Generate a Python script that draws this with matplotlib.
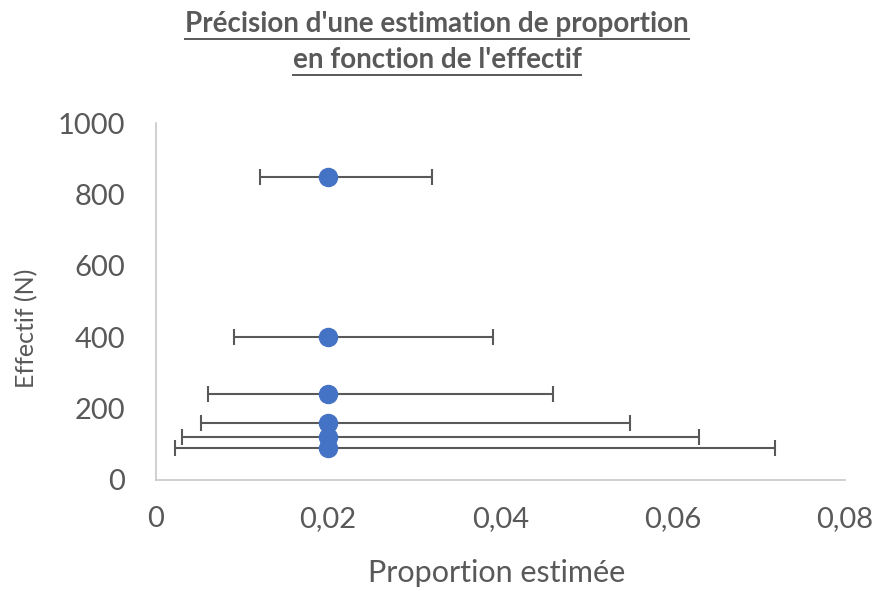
import matplotlib.pyplot as plt
from matplotlib.lines import Line2D
from matplotlib.ticker import FuncFormatter

plt.rcParams['font.family'] = ['Lato', 'DejaVu Sans']

# données
effectif = [850, 400, 240, 160, 120, 90]
proportion = [0.02, 0.02, 0.02, 0.02, 0.02, 0.02]
borne_inf = [0.0121, 0.0091, 0.0061, 0.0052, 0.0031, 0.0022]
borne_sup = [0.0321, 0.0391, 0.0461, 0.0550, 0.0631, 0.0719]

gris = '#595959'
bleu = '#4472C4'

err_g = [p - b for p, b in zip(proportion, borne_inf)]
err_d = [b - p for p, b in zip(proportion, borne_sup)]

W, H = 877, 591
fig = plt.figure(figsize=(W / 100, H / 100), dpi=100)
ax = fig.add_axes([155.7 / W, 1 - 480 / H, (845 - 155.7) / W, (480 - 123) / H])

ax.errorbar(proportion, effectif, xerr=[err_g, err_d], fmt='none',
            ecolor=gris, elinewidth=1.5, capsize=6, capthick=1.5, zorder=2)
ax.plot(proportion, effectif, 'o', color=bleu, markersize=13, zorder=3)

ax.set_xlim(0, 0.08)
ax.set_ylim(0, 1000)
ax.set_xticks([0, 0.02, 0.04, 0.06, 0.08])
ax.set_yticks(range(0, 1001, 200))
ax.xaxis.set_major_formatter(FuncFormatter(
    lambda v, pos: '0' if v == 0 else f'{v:.2f}'.replace('.', ',')))

for s in ['top', 'right']:
    ax.spines[s].set_visible(False)
for s in ['left', 'bottom']:
    ax.spines[s].set_color('#c8c8c8')
    ax.spines[s].set_linewidth(1.2)
ax.tick_params(length=0, labelsize=21, labelcolor=gris)
ax.tick_params(axis='x', pad=19)
ax.tick_params(axis='y', pad=22)

# titres des axes
fig.text(497 / W, 1 - 573 / H, 'Proportion estimée', ha='center', va='center',
         fontsize=22, color=gris)
fig.text(27 / W, 1 - 328 / H, 'Effectif (N)', ha='center', va='center',
         rotation=90, fontsize=18, color=gris)

# titre souligné
lignes = ["Précision d'une estimation de proportion", "en fonction de l'effectif"]
ys = [1 - 24 / H, 1 - 60 / H]
fig.canvas.draw()
r = fig.canvas.get_renderer()
for txt, yy in zip(lignes, ys):
    t = fig.text(437 / W, yy, txt, ha='center', va='center', fontsize=20,
                 fontweight='bold', color=gris)
    bb = t.get_window_extent(renderer=r).transformed(fig.transFigure.inverted())
    fig.add_artist(Line2D([bb.x0, bb.x1], [bb.y0 - 0.004, bb.y0 - 0.004],
                          color=gris, linewidth=1.4, transform=fig.transFigure))

fig.savefig('out.png', dpi=100)
